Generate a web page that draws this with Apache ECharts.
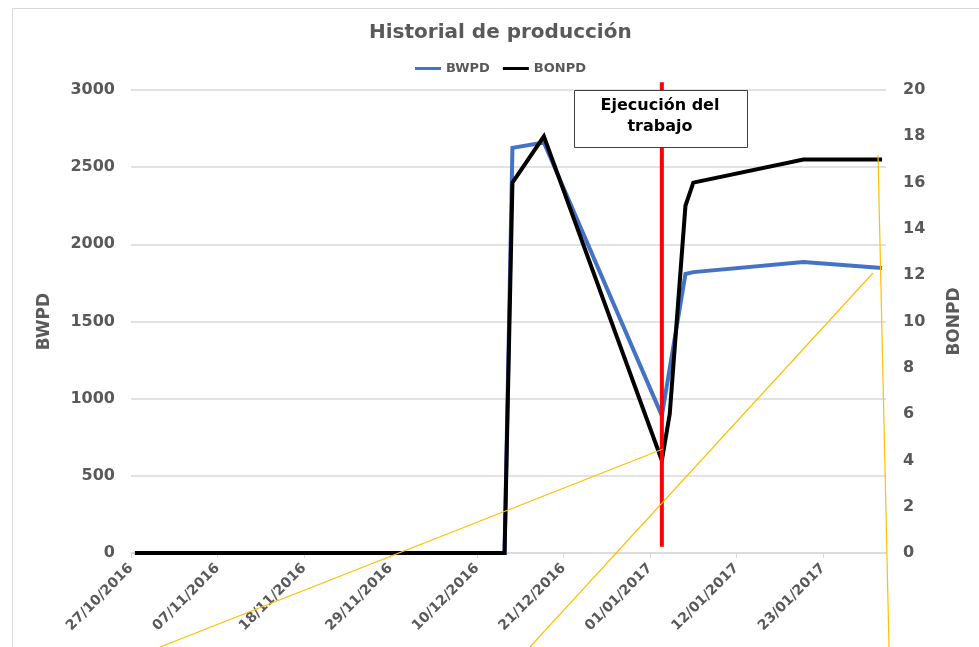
<!DOCTYPE html>
<html>
<head>
<meta charset="utf-8">
<script src="https://cdn.jsdelivr.net/npm/echarts@6.0.0/dist/echarts.min.js"></script>
<style>
  html, body { margin: 0; padding: 0; background: #fff; }
  #main { width: 979px; height: 647px; }
</style>
</head>
<body>
<div id="main"></div>
<script>
// datos (fechas dd/mm/aaaa)
const bwpdDates  = ['27/10/2016', '13/12/2016', '14/12/2016', '18/12/2016', '02/01/2017', '05/01/2017', '06/01/2017', '20/01/2017', '30/01/2017'];
const bwpdValues = [0, 0, 2625, 2660, 890, 1808, 1820, 1885, 1846];

const bonpdDates  = ['27/10/2016', '13/12/2016', '14/12/2016', '18/12/2016', '02/01/2017', '03/01/2017', '05/01/2017', '06/01/2017', '20/01/2017', '30/01/2017'];
const bonpdValues = [0, 0, 16, 18, 4, 6, 15, 16, 17, 17];

const xTickLabels = ['27/10/2016', '07/11/2016', '18/11/2016', '29/11/2016', '10/12/2016', '21/12/2016', '01/01/2017', '12/01/2017', '23/01/2017'];
const xAxisStart = '27/10/2016';
const xAxisEnd   = '31/01/2017';

// ejecución del trabajo (línea roja)
const workDate   = '02/01/2017';
const workLineY  = [3050, 40];
const workLabel  = 'Ejecución del\ntrabajo';

const DAY = 86400000;
const GRAY = '#595959';
const FONT = "'DejaVu Sans', Verdana, sans-serif";

function parseDate(s) {
    const [d, m, y] = s.split('/').map(Number);
    return Date.UTC(y, m - 1, d);
}
function dayIndex(s) {
    return Math.round((parseDate(s) - parseDate(xAxisStart)) / DAY);
}
// Excel centra cada día entre marcas de graduación
function xOf(s) {
    return dayIndex(s) + 0.5;
}
function fmtDay(v) {
    const d = new Date(parseDate(xAxisStart) + v * DAY);
    const dd = String(d.getUTCDate()).padStart(2, '0');
    const mm = String(d.getUTCMonth() + 1).padStart(2, '0');
    return dd + '/' + mm + '/' + d.getUTCFullYear();
}

const tickDays = xTickLabels.map(dayIndex);

const chart = echarts.init(document.getElementById('main'));

const option = {
    backgroundColor: '#fff',
    animation: false,
    textStyle: { fontFamily: FONT },
    title: {
        text: 'Historial de producción',
        left: 364,
        top: 18,
        textStyle: { fontFamily: FONT, fontSize: 20, fontWeight: 'bold', color: GRAY }
    },
    legend: {
        data: ['BWPD', 'BONPD'],
        top: 57,
        left: 410,
        icon: 'rect',
        itemWidth: 26,
        itemHeight: 3,
        itemGap: 13,
        textStyle: { fontFamily: FONT, fontSize: 13, fontWeight: 'bold', color: GRAY }
    },
    grid: { left: 131, right: 93, top: 90, bottom: 94 },
    xAxis: {
        type: 'value',
        min: 0,
        max: dayIndex(xAxisEnd),
        interval: 11,
        splitLine: { show: false },
        axisLine: { show: true, lineStyle: { color: '#d9d9d9', width: 1.5 } },
        axisTick: { show: true, length: 5, lineStyle: { color: '#d9d9d9' }, customValues: tickDays },
        axisLabel: {
            customValues: tickDays,
            rotate: 45,
            margin: 13,
            fontFamily: FONT,
            fontSize: 14,
            fontWeight: 'bold',
            color: GRAY,
            formatter: v => fmtDay(v)
        }
    },
    yAxis: [
        {
            type: 'value',
            name: 'BWPD',
            nameLocation: 'middle',
            nameGap: 78,
            nameTextStyle: { fontFamily: FONT, fontSize: 17, fontWeight: 'bold', color: GRAY },
            min: 0,
            max: 3000,
            interval: 500,
            axisLine: { show: false },
            axisTick: { show: false },
            splitLine: { lineStyle: { color: '#d9d9d9', width: 1.5 } },
            axisLabel: { margin: 16, fontFamily: FONT, fontSize: 16, fontWeight: 'bold', color: GRAY, formatter: v => String(v) }
        },
        {
            type: 'value',
            name: 'BONPD',
            nameLocation: 'middle',
            nameGap: 60,
            nameTextStyle: { fontFamily: FONT, fontSize: 17, fontWeight: 'bold', color: GRAY },
            position: 'right',
            min: 0,
            max: 20,
            interval: 2,
            axisLine: { show: false },
            axisTick: { show: false },
            splitLine: { show: false },
            axisLabel: { margin: 17, fontFamily: FONT, fontSize: 16, fontWeight: 'bold', color: GRAY, formatter: v => String(v) }
        }
    ],
    series: [
        {
            name: 'BWPD',
            type: 'line',
            yAxisIndex: 0,
            symbol: 'none',
            color: '#4472C4',
            lineStyle: { width: 4, color: '#4472C4', join: 'miter' },
            data: bwpdDates.map((d, i) => [xOf(d), bwpdValues[i]]),
            z: 3
        },
        {
            name: 'BONPD',
            type: 'line',
            yAxisIndex: 1,
            symbol: 'none',
            color: '#000',
            lineStyle: { width: 4, color: '#000', join: 'miter' },
            data: bonpdDates.map((d, i) => [xOf(d), bonpdValues[i]]),
            z: 4
        },
        {
            name: 'trabajo',
            type: 'line',
            yAxisIndex: 0,
            symbol: 'none',
            clip: false,
            silent: true,
            lineStyle: { width: 4, color: '#ff0000' },
            data: workLineY.map(v => [xOf(workDate), v]),
            z: 5
        }
    ]
};

chart.setOption(option);

// recuadro de anotación, marco y trazos amarillos sobrepuestos
chart.setOption({
    graphic: [
        {
            type: 'rect',
            left: 10, top: 6,
            shape: { width: 1000, height: 640 },
            style: { fill: 'none', stroke: '#d9d9d9', lineWidth: 1 },
            silent: true, z: 0
        },
        {
            type: 'rect',
            left: 574, top: 90,
            shape: { width: 173, height: 57 },
            style: { fill: '#fff', stroke: '#404040', lineWidth: 1 },
            z: 10
        },
        {
            type: 'text',
            x: 660, y: 95,
            z: 11,
            style: {
                text: workLabel,
                align: 'center',
                verticalAlign: 'top',
                fill: '#000',
                fontFamily: FONT,
                fontSize: 16,
                fontWeight: 'bold',
                lineHeight: 21
            }
        },
        { type: 'line', shape: { x1: 160, y1: 647, x2: 663, y2: 449 }, style: { stroke: '#ffc000', lineWidth: 1.2 }, z: 12 },
        { type: 'line', shape: { x1: 530, y1: 647, x2: 873, y2: 273 }, style: { stroke: '#ffc000', lineWidth: 1.2 }, z: 12 },
        { type: 'line', shape: { x1: 878, y1: 155, x2: 889, y2: 647 }, style: { stroke: '#ffc000', lineWidth: 1.2 }, z: 12 }
    ]
});
</script>
</body>
</html>
